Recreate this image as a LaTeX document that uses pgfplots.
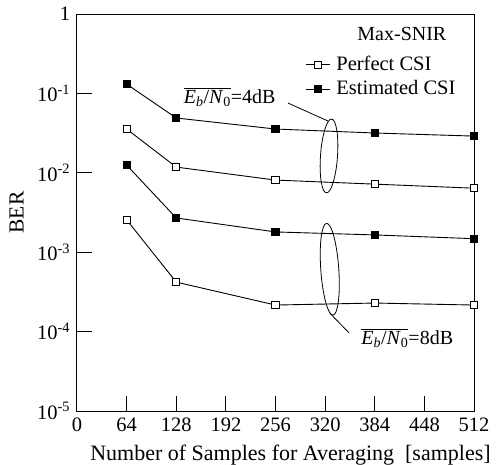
\documentclass[border=0pt]{standalone}
\usepackage{fontspec}
\setmainfont{Liberation Serif}
\usepackage{pgfplots}
\pgfplotsset{compat=1.18}
\begin{document}
\fontsize{20}{24}\selectfont
\begin{tikzpicture}
\path[use as bounding box] (-77pt,-53pt) rectangle (421pt,411pt);
\begin{axis}[
  at={(0,0)}, anchor=south west,
  scale only axis, width=397pt, height=397pt,
  ymode=log, xmin=0, xmax=512, ymin=1e-5, ymax=1,
  xtick={0,64,...,512},
  ytick={1e-5,1e-4,1e-3,1e-2,1e-1,1},
  yticklabels={10\textsuperscript{-5},10\textsuperscript{-4},10\textsuperscript{-3},10\textsuperscript{-2},10\textsuperscript{-1},1},
  yminorticks=false,
  /pgf/number format/assume math mode=true,
  tick align=inside, xtick pos=bottom, ytick pos=left,
  major tick length=15pt,
  axis line style={line width=1pt},
  every tick/.style={black, line width=1pt},
  tick label style={font=\fontsize{20.5}{24}\selectfont},
  label style={font=\fontsize{21.5}{24}\selectfont},
  xlabel style={font=\fontsize{22}{24}\selectfont, xshift=15pt},
  xlabel={Number of Samples for Averaging\ \ [samples]},
  ylabel={BER},
  legend style={draw=none, fill=none, at={(0.575,0.9)}, anchor=north west,
     font=\fontsize{20.5}{24}\selectfont, row sep=3pt, inner sep=0pt},
  legend cell align=left,
  legend image code/.code={\draw[mark repeat=2,mark phase=2] plot coordinates {(0pt,0pt) (12pt,0pt) (24pt,0pt)}; \path (28pt,0pt);},
  every axis plot/.append style={black, line width=0.9pt, mark=square*, mark size=3.6pt, mark options={solid, line width=0.8pt}},
  clip=false,
]
% Perfect CSI, 4dB
\addplot[mark options={fill=white}] coordinates {(64,0.0356) (128,0.0118) (256,0.0081) (384,0.0072) (512,0.0064)};
\addlegendentry{Perfect CSI}
% Estimated CSI, 4dB
\addplot[mark options={fill=black}] coordinates {(64,0.131) (128,0.049) (256,0.0356) (384,0.0317) (512,0.029)};
\addlegendentry{Estimated CSI}
% Estimated CSI, 8dB
\addplot[mark options={fill=black}, forget plot] coordinates {(64,0.0125) (128,0.0027) (256,0.0018) (384,0.00165) (512,0.00148)};
% Perfect CSI, 8dB
\addplot[mark options={fill=white}, forget plot] coordinates {(64,0.00256) (128,0.00042) (256,0.000216) (384,0.000229) (512,0.000216)};

\node at (axis cs:419,0.56) {Max-SNIR};
\node at (axis cs:197,0.090) {$\overline{\hbox{\textit{E}\textsubscript{\textit{b}}/\textit{N}\textsubscript{0}}}$=4dB};
\draw[line width=0.8pt] (axis cs:272,0.0757) -- (axis cs:323.7,0.0449);
\draw[line width=0.8pt, rotate around={-4:(axis cs:325,0.0163)}] (axis cs:325,0.0163) ellipse [x radius=8.5pt, y radius=37pt];
\node[anchor=west] at (axis cs:358,8.3e-5) {$\overline{\hbox{\textit{E}\textsubscript{\textit{b}}/\textit{N}\textsubscript{0}}}$=8dB};
\draw[line width=0.8pt] (axis cs:326,1.71e-4) -- (axis cs:351,9.6e-5);
\draw[line width=0.8pt, rotate around={4:(axis cs:326,6.1e-4)}] (axis cs:326,6.1e-4) ellipse [x radius=9pt, y radius=46pt];
\end{axis}
\end{tikzpicture}
\end{document}
